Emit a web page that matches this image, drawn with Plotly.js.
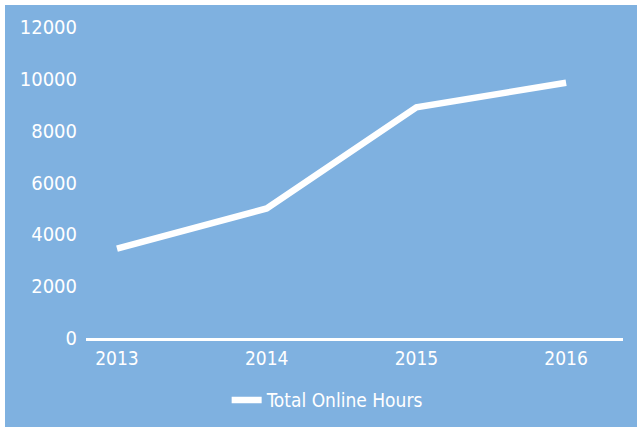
<!DOCTYPE html>
<html>
<head>
<meta charset="utf-8">
<script src="https://cdn.plot.ly/plotly-3.0.1.min.js"></script>
<style>
  html, body { margin: 0; padding: 0; background: #ffffff; }
  #chart { position: absolute; left: 5px; top: 5px; width: 632px; height: 422px; }
</style>
</head>
<body>
<div id="chart"></div>
<script>
const years = ['2013', '2014', '2015', '2016'];
const onlineHours = [3450, 5000, 8900, 9850];
const yTicks = [0, 2000, 4000, 6000, 8000, 10000, 12000];
const seriesName = 'Total Online Hours';

const bg = '#7fb1e0';
const fontFam = '"DejaVu Sans Condensed", "Liberation Sans Narrow", sans-serif';

const trace = {
  x: years,
  y: onlineHours,
  type: 'scatter',
  mode: 'lines',
  name: seriesName,
  line: { color: '#ffffff', width: 6.5 },
  showlegend: true
};

const layout = {
  width: 632,
  height: 422,
  paper_bgcolor: bg,
  plot_bgcolor: bg,
  margin: { l: 81, r: 14, t: 22, b: 89, autoexpand: false },
  font: { family: fontFam, color: '#ffffff', size: 19 },
  xaxis: {
    type: 'category',
    range: [-0.207, 3.38],
    automargin: false,
    showgrid: false,
    zeroline: false,
    showline: true,
    linecolor: '#ffffff',
    linewidth: 2.5,
    ticks: '',
    ticklabelstandoff: 2,
    tickfont: { family: fontFam, size: 19, color: '#ffffff' },
    fixedrange: true
  },
  yaxis: {
    range: [0, 12000],
    automargin: false,
    tickvals: yTicks,
    ticktext: yTicks.map(String),
    showgrid: false,
    zeroline: false,
    showline: false,
    ticks: '',
    ticklabelstandoff: 8,
    tickfont: { family: fontFam, size: 20, color: '#ffffff' },
    fixedrange: true
  },
  legend: {
    orientation: 'h',
    x: 0.45,
    xanchor: 'center',
    y: -0.2,
    yanchor: 'middle',
    bgcolor: 'rgba(0,0,0,0)',
    font: { family: fontFam, size: 19, color: '#ffffff' }
  },
  showlegend: true
};

Plotly.newPlot('chart', [trace], layout, { displayModeBar: false, staticPlot: true });
</script>
</body>
</html>
